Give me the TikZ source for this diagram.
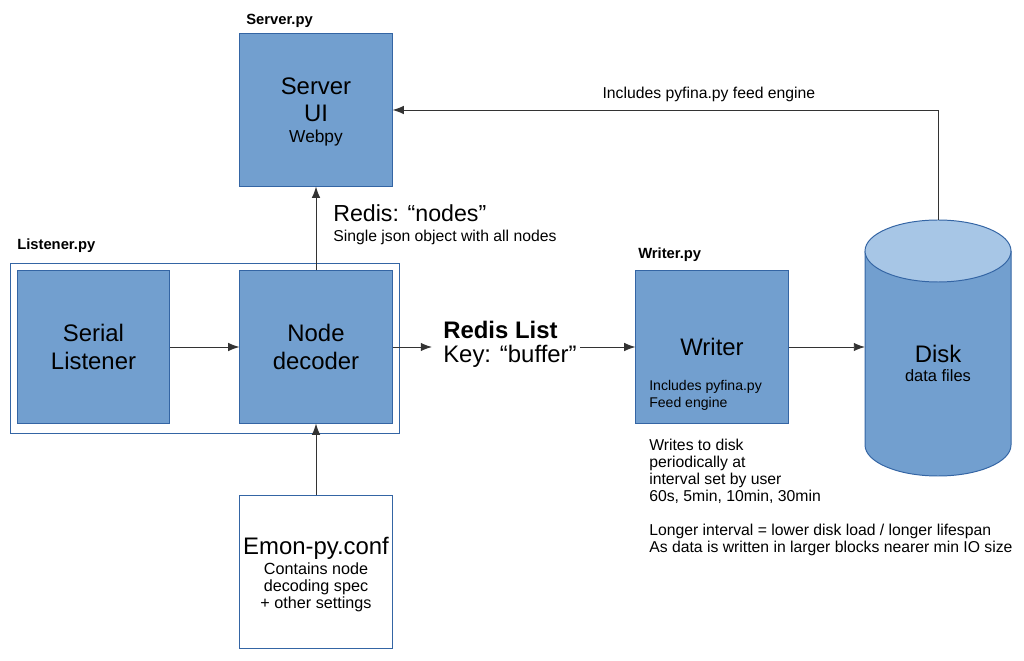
\documentclass[tikz,border=0pt]{standalone}
\usepackage{fontspec}
\setmainfont{Liberation Sans}
\usetikzlibrary{positioning,arrows.meta}

\definecolor{boxfill}{HTML}{729FCF}
\definecolor{boxline}{HTML}{3465A4}
\definecolor{diskcap}{HTML}{A7C6E6}
\definecolor{wire}{HTML}{333333}

\newcommand{\bigtxt}{\fontsize{17}{19.5}\selectfont}
\newcommand{\midtxt}{\fontsize{16.5}{19}\selectfont}
\newcommand{\subtxt}{\fontsize{12.3}{14}\selectfont}
\newcommand{\smalltxt}{\fontsize{11.2}{12.1}\selectfont}

\tikzset{
  block/.style={draw=boxline, fill=boxfill, line width=0.7pt, minimum width=3.8cm,
    minimum height=3.8cm, inner sep=0pt, align=center},
  confbox/.style={block, fill=white},
  frame/.style={draw=boxline, line width=0.7pt},
  tag/.style={font=\fontsize{10.5}{12}\selectfont\bfseries, anchor=west, inner sep=0pt},
  note/.style={font=\smalltxt, anchor=west, align=left, inner sep=0pt},
  flow/.style={-{Latex[length=8pt,width=6pt]}, line width=0.7pt, draw=wire},
}

\begin{document}
\begin{tikzpicture}[x=0.025cm,y=-0.025cm]
\useasboundingbox (0,0) rectangle (1024,661);

% server
\node[tag] (servertag) at (246,21) {Server.py};
\node[block] (server) at (316,110) {};
\node[align=center, font=\fontsize{17}{19}\selectfont] (serverlbl) at (316,100) {Server\\UI};
\node[font=\subtxt] (serversub) at (316,138) {Webpy};

% listener
\draw[frame] (10,263) rectangle (399,433);
\node[tag] (listtag) at (17,246) {Listener.py};
\node[block, font=\bigtxt] (serial) at (93.5,347) {Serial\\Listener};
\node[block, font=\bigtxt] (dec) at (316,347) {Node\\decoder};

% config
\node[confbox] (conf) at (316,572) {};
\node[font=\bigtxt] (conflbl) at (316,548) {Emon-py.conf};
\node[align=center, font=\fontsize{11.5}{12.1}\selectfont] (confnote) at (316,587)
  {Contains node\\decoding spec\\+ other settings};

% writer
\node[tag] (writertag) at (638,255) {Writer.py};
\node[block] (writer) at (712,347) {};
\node[font=\bigtxt] (writerlbl) at (712,347) {Writer};
\node[note, font=\fontsize{10}{12}\selectfont] (writernote) at (649,395) {Includes pyfina.py\\Feed engine};

% disk
\fill[boxfill] (865,251) -- (865,445) arc[start angle=180,end angle=0,x radius=73,y radius=31] -- (1011,251) -- cycle;
\draw[boxline, line width=0.7pt] (865,251) -- (865,445) arc[start angle=180,end angle=0,x radius=73,y radius=31] -- (1011,251);
\draw[boxline, fill=diskcap, line width=0.7pt] (938,251) ellipse[x radius=73,y radius=31];
\node[font=\bigtxt] (disk) at (938,354) {Disk};
\node[font=\fontsize{11.7}{14}\selectfont] (diskfiles) at (938,376) {data files};
\coordinate (diskin) at (865,347);
\coordinate (disktop) at (938,220);

% redis labels
\node[anchor=west, inner sep=0pt, font=\midtxt] (nodeskey) at (333,213) {Redis: “nodes”};
\node[note] (nodesnote) at (333,237) {Single json object with all nodes};
\node[anchor=west, inner sep=0pt, font=\bigtxt\bfseries] (redis) at (443,330) {Redis List};
\node[anchor=west, inner sep=0pt, font=\bigtxt] (rediskey) at (443,356) {Key: “buffer”};
\coordinate (rin) at (432,347);
\coordinate (rout) at (580,347);

% notes
\node[note, anchor=north west] (intervals) at (649,439) {Writes to disk\\periodically at\\interval set by user\\60s, 5min, 10min, 30min\\[12pt]
  Longer interval = lower disk load / longer lifespan\\As data is written in larger blocks nearer min IO size};

% connectors
\draw[flow] (serial) -- (dec);
\draw[flow] (dec) -- (server);
\draw[flow] (conf) -- (dec);
\draw[flow] (dec.east) -- (rin);
\draw[flow] (rout) -- (writer.west);
\draw[flow] (writer.east) -- (diskin);
\draw[flow] (disktop) |- node[pos=0.71, above=2pt, font=\smalltxt] (feedlbl) {Includes pyfina.py feed engine} (server.east);
\end{tikzpicture}
\end{document}
